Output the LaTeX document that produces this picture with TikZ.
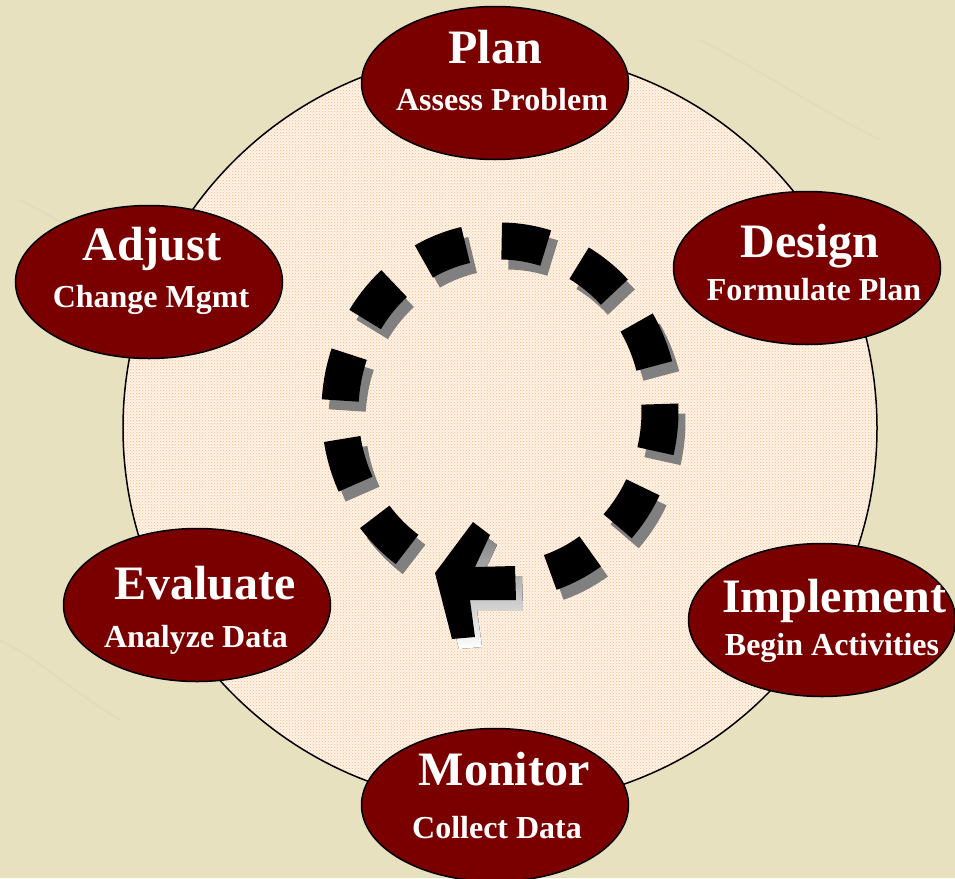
\documentclass[tikz,border=0pt]{standalone}
\usepackage{fontspec}
\setmainfont{Liberation Serif}
\usetikzlibrary{shapes.geometric,patterns}
\definecolor{bg}{RGB}{231,225,192}
\definecolor{bgline}{RGB}{220,213,178}
\definecolor{stage}{RGB}{122,0,0}
\definecolor{peachbase}{RGB}{255,243,232}
\definecolor{peach}{RGB}{250,185,130}
\definecolor{shade}{RGB}{128,128,128}
\tikzset{
  stagebox/.style={ellipse, draw=black, line width=1.5pt, fill=stage, inner sep=0pt,
    minimum width=267pt, minimum height=153pt},
  titletext/.style={anchor=base, text=white, inner sep=0pt,
    font=\bfseries\fontsize{48}{50}\selectfont},
  subtext/.style={anchor=base, text=white, inner sep=0pt,
    font=\bfseries\fontsize{32}{34}\selectfont},
  dashpiece/.style={line width=37pt, draw=black},
  dashshadow/.style={line width=37pt, draw=shade},
  ringbox/.style={circle, draw=black, line width=1.5pt, inner sep=0pt,
    minimum size=754pt, preaction={fill=peachbase},
    pattern=crosshatch dots, pattern color=peach},
}
\begin{document}
\begin{tikzpicture}[x=1pt,y=-1pt]
\useasboundingbox (0,0) rectangle (955,878);
\fill[bg] (0,0) rectangle (955,878);
% faint texture strokes
\draw[bgline, line width=2pt, opacity=0.4] (20,200) .. controls (80,230) and (120,260) .. (180,300);
\draw[bgline, line width=2pt, opacity=0.4] (0,640) .. controls (40,660) and (70,690) .. (120,720);
\draw[bgline, line width=2pt, opacity=0.4] (700,40) .. controls (760,70) and (820,110) .. (880,140);

% big background circle
\node[ringbox] (ring) at (500,428) {};

% dashed cycle: shadows first
\foreach \k in {0,...,10}{
  \pgfmathsetmacro\ta{125.5+29.02*\k}
  \pgfmathsetmacro\tb{141.5+29.02*\k}
  \draw[dashshadow] plot[domain=\ta:\tb, samples=12, smooth]
    ({507+160*cos(\x)},{421+170*sin(\x)});
}
\fill[shade] (442,583) -- (480,532) -- (497,545) -- (482,577) -- (522,576)
  -- (523,610) -- (477,610) -- (482,647) -- (459,649) -- cycle;
\foreach \k in {0,...,10}{
  \pgfmathsetmacro\ta{125.5+29.02*\k}
  \pgfmathsetmacro\tb{141.5+29.02*\k}
  \draw[dashpiece] plot[domain=\ta:\tb, samples=12, smooth]
    ({500+160*cos(\x)},{411+170*sin(\x)});
}
\fill[black] (435,573) -- (473,522) -- (490,535) -- (475,567) -- (515,566)
  -- (516,600) -- (470,600) -- (475,637) -- (452,639) -- cycle;

% stages
\node[stagebox] (plan) at (495,83) {};
\node[stagebox] (design) at (807,268) {};
\node[stagebox] (implement) at (822,620) {};
\node[stagebox] (monitor) at (495,805) {};
\node[stagebox] (evaluate) at (197,605) {};
\node[stagebox] (adjust) at (149,282) {};

\node[titletext] (plant) at (495,63) {Plan};
\node[subtext] (plans) at (502,110) {Assess Problem};
\node[titletext] (designt) at (810,257) {Design};
\node[subtext] (designs) at (814,300) {Formulate Plan};
\node[titletext] (implementt) at (834,612) {Implement};
\node[subtext] (implements) at (832,655) {Begin Activities};
\node[titletext] (monitort) at (504,785) {Monitor};
\node[subtext] (monitors) at (497,838) {Collect Data};
\node[titletext] (evaluatet) at (205,599) {Evaluate};
\node[subtext] (evaluates) at (196,647) {Analyze Data};
\node[titletext] (adjustt) at (152,260) {Adjust};
\node[subtext] (adjusts) at (151,307) {Change Mgmt};
\end{tikzpicture}
\end{document}
